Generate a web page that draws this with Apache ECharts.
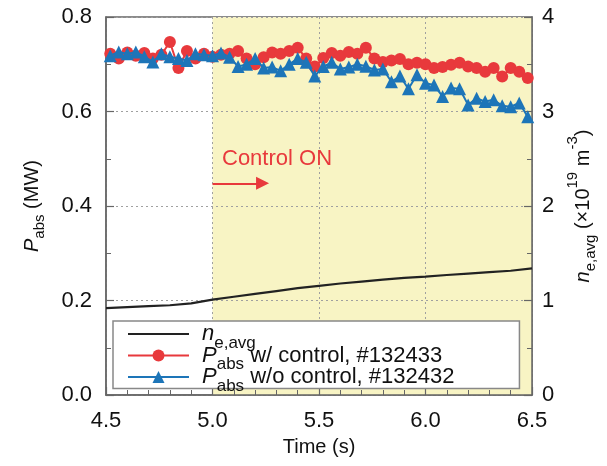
<!DOCTYPE html>
<html><head><meta charset="utf-8">
<script src="https://cdn.jsdelivr.net/npm/echarts@6/dist/echarts.min.js"></script>
<style>html,body{margin:0;padding:0;background:#fff}#c{width:607px;height:466px}</style>
</head><body><div id="c"></div>
<script>
const times = [4.52,4.56,4.60,4.64,4.68,4.72,4.76,4.80,4.84,4.88,4.92,4.96,5.00,5.04,5.08,5.12,5.16,5.20,5.24,5.28,5.32,5.36,5.40,5.44,5.48,5.52,5.56,5.60,5.64,5.68,5.72,5.76,5.80,5.84,5.88,5.92,5.96,6.00,6.04,6.08,6.12,6.16,6.20,6.24,6.28,6.32,6.36,6.40,6.44,6.48];
const pWithControl = [0.722,0.712,0.725,0.718,0.724,0.712,0.720,0.747,0.692,0.728,0.712,0.722,0.716,0.720,0.722,0.728,0.712,0.700,0.715,0.725,0.722,0.728,0.735,0.712,0.695,0.713,0.724,0.718,0.726,0.722,0.735,0.712,0.705,0.708,0.711,0.700,0.703,0.700,0.692,0.694,0.699,0.703,0.695,0.692,0.684,0.692,0.674,0.692,0.684,0.671];
const pWithoutControl = [0.718,0.726,0.722,0.726,0.716,0.705,0.722,0.716,0.712,0.708,0.722,0.720,0.718,0.724,0.715,0.695,0.700,0.712,0.692,0.694,0.686,0.700,0.712,0.704,0.675,0.695,0.704,0.690,0.694,0.700,0.696,0.688,0.690,0.663,0.675,0.648,0.678,0.660,0.656,0.632,0.650,0.648,0.614,0.628,0.621,0.625,0.612,0.610,0.618,0.589];
const neTimes = [4.5,4.6,4.7,4.8,4.9,5.0,5.1,5.2,5.3,5.4,5.5,5.6,5.7,5.8,5.9,6.0,6.1,6.2,6.3,6.4,6.5];
const neAvg = [0.92,0.93,0.94,0.95,0.97,1.01,1.04,1.07,1.10,1.13,1.155,1.18,1.20,1.22,1.24,1.253,1.27,1.285,1.30,1.315,1.34];
const controlStart = 5.0, controlEnd = 6.5;
const arrowFrom = [5.0, 0.448], arrowTo = [5.235, 0.448];

const FONT = 'Liberation Sans';
const RED = '#e8393c', BLUE = '#1d75b8';
const zip = (a, b) => a.map((v, i) => [v, b[i]]);
const legendLabels = {
  ne: '{i|n}{sub|e,avg}',
  w: '{i|P}{sub|abs}{t| w/ control, #132433}',
  wo: '{i|P}{sub|abs}{t| w/o control, #132432}'
};
const richBase = {
  i: {fontStyle: 'italic', fontSize: 22, lineHeight: 21, fontFamily: FONT, color: '#111', padding: [0, 0, 0, 8]},
  sub: {fontSize: 17, lineHeight: 21, fontFamily: FONT, color: '#111', verticalAlign: 'top', padding: [11, 0, 0, 0]},
  t: {fontSize: 22, lineHeight: 21, fontFamily: FONT, color: '#111'}
};
const axisRich = {
  i: {fontStyle: 'italic', fontSize: 20, fontFamily: FONT, color: '#111', lineHeight: 24},
  n: {fontSize: 20, fontFamily: FONT, color: '#111', lineHeight: 24},
  sub: {fontSize: 15, fontFamily: FONT, color: '#111', lineHeight: 24, verticalAlign: 'top', padding: [12, 0, 0, 0]},
  sup: {fontSize: 15, fontFamily: FONT, color: '#111', lineHeight: 24, verticalAlign: 'top', padding: [-6, 0, 0, 0]}
};
const axisLine = {show: true, lineStyle: {color: '#666', width: 1.5}};
const splitLine = {show: true, lineStyle: {color: '#a0a0a0', type: [2, 3], width: 1}};

const chart = echarts.init(document.getElementById('c'), null, {renderer: 'canvas'});
chart.setOption({
  animation: false,
  backgroundColor: '#fff',
  textStyle: {fontFamily: FONT},
  grid: {left: 106, right: 75, top: 17, bottom: 71, show: true, borderColor: '#666', borderWidth: 1.5, backgroundColor: 'transparent'},
  xAxis: {
    type: 'value', min: 4.5, max: 6.5, interval: 0.5, z: 2,
    name: 'Time (s)', nameLocation: 'middle', nameGap: 42,
    nameTextStyle: {fontSize: 20, color: '#111', fontFamily: FONT},
    axisLine, axisTick: {inside: true, length: 8, lineStyle: {color: '#666', width: 1.2}},
    minorTick: {show: true, splitNumber: 5, length: 5, lineStyle: {color: '#666', width: 1}},
    axisLabel: {fontSize: 22, color: '#111', margin: 15, fontFamily: FONT, formatter: v => v.toFixed(1)},
    splitLine
  },
  yAxis: [{
    type: 'value', min: 0, max: 0.8, interval: 0.2, z: 2,
    name: '{i|P}{sub|abs}{n| (MW)}', nameLocation: 'middle', nameRotate: 90, nameGap: 62,
    nameTextStyle: {rich: axisRich},
    axisLine, axisTick: {inside: true, length: 8, lineStyle: {color: '#666', width: 1.2}},
    minorTick: {show: true, splitNumber: 2, length: 5, lineStyle: {color: '#666', width: 1}},
    axisLabel: {fontSize: 22, color: '#111', margin: 14, fontFamily: FONT, formatter: v => v.toFixed(1)},
    splitLine
  }, {
    type: 'value', min: 0, max: 4, interval: 1, z: 2, position: 'right',
    name: '{i|n}{sub|e,avg}{n| (×10}{sup|19}{n| m}{sup|-3}{n|)}', nameLocation: 'middle', nameRotate: 90, nameGap: 21,
    nameTextStyle: {rich: axisRich},
    axisLine, axisTick: {inside: true, length: 8, lineStyle: {color: '#666', width: 1.2}},
    minorTick: {show: true, splitNumber: 2, length: 5, lineStyle: {color: '#666', width: 1}},
    axisLabel: {fontSize: 22, color: '#111', margin: 10, fontFamily: FONT},
    splitLine: {show: false}
  }],
  legend: {
    orient: 'vertical', left: 113, top: 321,
    data: [{name: 'ne', itemStyle: {opacity: 0}}, {name: 'w'}, {name: 'wo'}],
    itemWidth: 61, itemHeight: 15, itemGap: -7,
    padding: [2, 65, -6, 14],
    backgroundColor: '#fff', borderColor: '#888', borderWidth: 1.5,
    formatter: n => legendLabels[n],
    textStyle: {fontFamily: FONT, fontSize: 22, lineHeight: 21, color: '#111', rich: richBase}
  },
  graphic: [{
    type: 'text', left: 222, top: 148, z: 10,
    style: {text: 'Control ON', fill: RED, font: '22px "Liberation Sans"'}
  }],
  series: [{
    name: 'ne', type: 'line', yAxisIndex: 1, symbol: 'none', z: 3,
    lineStyle: {color: '#222', width: 2.2}, itemStyle: {color: '#222'},
    data: zip(neTimes, neAvg),
    markArea: {silent: true, z: 1, itemStyle: {color: '#f8f4c4'}, data: [[{xAxis: controlStart}, {xAxis: controlEnd}]]}
  }, {
    name: 'w', type: 'line', symbol: 'circle', symbolSize: 12, z: 3,
    lineStyle: {color: RED, width: 2}, itemStyle: {color: RED},
    data: zip(times, pWithControl),
    markLine: {
      silent: true, symbol: ['none', 'triangle'], symbolSize: 13,
      lineStyle: {color: RED, width: 2.2, type: 'solid'}, label: {show: false},
      data: [[{coord: arrowFrom}, {coord: arrowTo}]]
    }
  }, {
    name: 'wo', type: 'line', symbol: 'triangle', symbolSize: 13, z: 4,
    lineStyle: {color: BLUE, width: 2}, itemStyle: {color: BLUE},
    data: zip(times, pWithoutControl)
  }]
});
</script></body></html>
